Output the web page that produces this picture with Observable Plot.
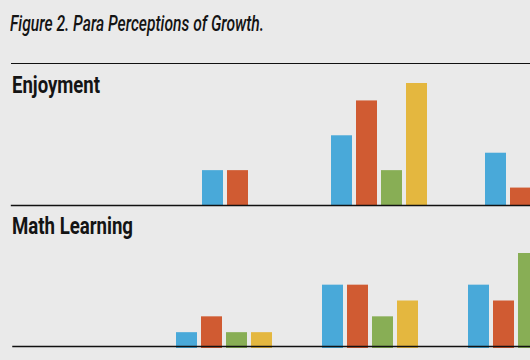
<!DOCTYPE html>
<html>
<head>
<meta charset="utf-8">
<script src="https://cdn.jsdelivr.net/npm/d3@7"></script>
<script src="https://cdn.jsdelivr.net/npm/@observablehq/plot@0.6"></script>
<style>
  html, body { margin: 0; padding: 0; width: 530px; height: 360px; overflow: hidden; background: #eaeaea; }
  body { position: relative; }
  .txt { position: absolute; white-space: nowrap; line-height: 1; color: #141414; transform-origin: 0 0;
         font-family: Roboto, "Liberation Sans", sans-serif; }
  #title { left: 10px; top: 12.5px; font-size: 22px; font-style: italic; font-weight: 500; }
  .ptitle { left: 12px; font-size: 24px; font-weight: bold; }
  #rule { position: absolute; left: 11px; top: 62.5px; width: 600px; height: 0; border-top: 1.5px solid #111; }
  .panel { position: absolute; left: 0; width: 800px; }
  .panel svg { max-width: none !important; display: block; }
</style>
</head>
<body>
<div id="title" class="txt">Figure 2. Para Perceptions of Growth.</div>
<div id="rule"></div>
<div id="enj" class="panel" style="top:63px"></div>
<div id="math" class="panel" style="top:240px"></div>
<div id="t1" class="txt ptitle" style="top:73px">Enjoyment</div>
<div id="t2" class="txt ptitle" style="top:214px">Math Learning</div>
<script>
// Response categories (x groups; axis labels are not visible in the figure)
const categories = ["C1", "C2", "C3", "C4", "C5"];
// Series (colour groups)
const series = ["S1", "S2", "S3", "S4"];
const colors = ["#49a9d9", "#d05b32", "#88ae55", "#e4b73f"];
// Values per category, one entry per series (null = outside the visible crop)
const enjoyment = [
  [0, 0, 0, 0],
  [2, 2, 0, 0],
  [4, 6, 2, 7],
  [3, 1, null, null],
  [null, null, null, null]
];
const mathLearning = [
  [0, 0, 0, 0],
  [1, 2, 1, 1],
  [4, 4, 2, 3],
  [4, 3, 6, null],
  [null, null, null, null]
];

function table(values) {
  const rows = [];
  categories.forEach((c, gi) => {
    const vals = values[gi];
    const present = series.filter((s, si) => vals[si] !== 0);
    const offset = (series.length - present.length) / 2;
    series.forEach((s, si) => {
      const v = vals[si];
      if (v == null || v === 0) return;
      rows.push({category: c, series: s, value: v, slot: present.indexOf(s) + offset});
    });
  });
  return rows;
}

function panel(values, opts) {
  const marginLeft = 11;
  const step = (opts.width - marginLeft) / (categories.length - opts.pi + 2 * opts.po);
  const outer = opts.po * step;
  return Plot.plot({
    width: opts.width,
    height: opts.height,
    marginLeft,
    marginRight: 0,
    marginTop: opts.marginTop,
    marginBottom: opts.marginBottom,
    style: {background: "transparent", overflow: "visible", maxWidth: "none"},
    fx: {domain: categories, paddingInner: opts.pi, paddingOuter: opts.po, axis: null, label: null},
    x: {domain: [0, 1, 2, 3], paddingInner: 0.18, paddingOuter: 0, axis: null},
    y: {domain: [0, opts.ymax], axis: null},
    color: {domain: series, range: colors},
    marks: [
      Plot.barY(table(values), {fx: "category", x: "slot", y: "value", fill: "series"}),
      Plot.frame({anchor: "bottom", facet: "super", stroke: "#111", strokeWidth: 1.4,
                  dy: opts.ruleDy, insetLeft: -outer, insetRight: -outer})
    ]
  });
}

document.getElementById("enj").append(panel(enjoyment, {
  width: 747, height: 145, marginTop: 20, marginBottom: 3, pi: 0.364, po: 0.0714, ymax: 7, ruleDy: 0
}));
document.getElementById("math").append(panel(mathLearning, {
  width: 728, height: 112, marginTop: 13, marginBottom: 4, pi: 0.331, po: 0.113, ymax: 6, ruleDy: -2
}));

function fit(id, w) {
  const el = document.getElementById(id);
  const r = el.getBoundingClientRect();
  el.style.transform = `scaleX(${w / r.width})`;
}
fit("title", 254);
fit("t1", 88);
fit("t2", 121);
</script>
</body>
</html>
